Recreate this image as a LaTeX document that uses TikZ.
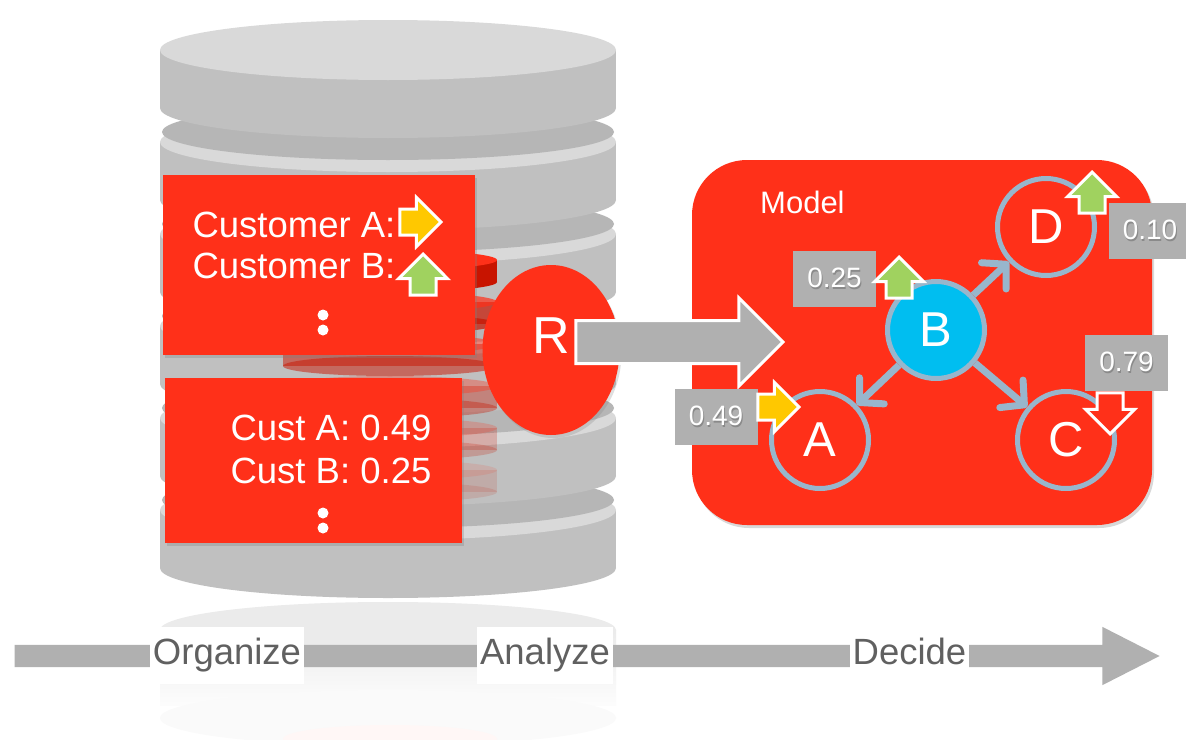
\documentclass[tikz,border=0pt]{standalone}
\usepackage{fontspec}
\setmainfont{Liberation Sans}
\usetikzlibrary{positioning,arrows.meta,shapes.geometric,shapes.arrows,shadows}

\definecolor{modelRed}{RGB}{255,48,25}
\definecolor{diskTop}{RGB}{217,217,217}
\definecolor{diskSide}{RGB}{192,192,192}
\definecolor{diskGap}{RGB}{182,182,182}
\definecolor{diskRedSide}{RGB}{200,20,0}
\definecolor{tagGray}{RGB}{176,176,176}
\definecolor{tagShade}{RGB}{138,138,138}
\definecolor{edgeBlue}{RGB}{152,182,204}
\definecolor{nodeCyan}{RGB}{0,190,240}
\definecolor{upGreen}{RGB}{160,210,95}
\definecolor{sideYellow}{RGB}{255,200,0}
\definecolor{stepText}{RGB}{96,96,96}

\newcommand{\pxfont}[1]{\fontsize{#1}{#1}\selectfont}
% white figures with a soft dark copy underneath
\newcommand{\tagText}[1]{\rlap{\kern1pt\raisebox{-2pt}{\textcolor{tagShade}{#1}}}#1}
% one grey platter of the database, #1 = y of its top face
\newcommand{\dbDisk}[1]{%
  \fill[diskSide] (160,#1) rectangle (616,#1+58);
  \fill[diskSide] (388,#1+58) ellipse [x radius=228, y radius=30];
  \fill[diskTop] (388,#1) ellipse [x radius=228, y radius=30];}

\begin{document}
\begin{tikzpicture}[
  x=1pt, y=-1pt,
  redBox/.style={fill=modelRed, inner sep=0pt,
                 drop shadow={opacity=0.3, shadow xshift=2pt,
                              shadow yshift=-3pt}},
  boxText/.style={text=white, font=\pxfont{36.5}, anchor=base,
                  inner sep=0pt},
  iconArrow/.style={single arrow, draw=white, line width=3pt,
                    inner sep=11.5pt, single arrow head extend=11.5pt,
                    minimum height=41pt, anchor=tip},
  upIcon/.style={iconArrow, fill=upGreen, shape border rotate=90},
  rightIcon/.style={iconArrow, fill=sideYellow},
  downIcon/.style={iconArrow, fill=modelRed, shape border rotate=270},
  stateNode/.style={circle, draw=edgeBlue, line width=5pt, fill=modelRed,
                    minimum size=97pt, inner sep=0pt, text=white,
                    font=\pxfont{49}},
  edgeLine/.style={draw=edgeBlue, line width=7pt,
                   -{Straight Barb[round, length=17pt, width=36pt]}},
  tagBox/.style={fill=tagGray, text=white, minimum width=83pt,
                 minimum height=56pt, inner sep=0pt, font=\pxfont{28}},
  stepLabel/.style={fill=white, text=stepText, font=\pxfont{36.5},
                    inner xsep=3pt, inner ysep=11pt, text height=27pt,
                    text depth=8pt}
]
  \fill[white] (0,0) rectangle (1186,739);
  \useasboundingbox (0,0) rectangle (1186,739);

  % === Database stack ===
  % faint mirror image under the stack
  \shade[top color=black!8, bottom color=black!1] (160,630) rectangle (616,705);
  \fill[black!8] (388,630) ellipse [x radius=228, y radius=28];
  \fill[black!2] (388,718) ellipse [x radius=228, y radius=28];
  \fill[modelRed!4] (390,739) ellipse [x radius=107, y radius=14];
  % platters, bottom one first
  \foreach \t in {510,418,326,234,142} {
    \dbDisk{\t}
    \fill[diskGap] (388,\t-10) ellipse [x radius=226, y radius=28];
  }
  \dbDisk{50}
  % red records inside the stack
  \foreach \t/\o in {470/0.12, 428/0.22, 386/0.35, 344/0.5, 302/0.7, 260/1} {
    \begin{scope}[fill opacity=\o]
      \fill[diskRedSide] (283,\t) rectangle (497,\t+22);
      \fill[diskRedSide] (390,\t+22) ellipse [x radius=107, y radius=10];
      \fill[modelRed] (390,\t) ellipse [x radius=107, y radius=10];
    \end{scope}
  }

  % === Customer trends ===
  \node[redBox, minimum width=312pt, minimum height=180pt] (custBox)
    at (319,265) {};
  \node[boxText] (custA) at (294,237) {Customer A:};
  \node[boxText] (custB) at (294,278) {Customer B:};
  \fill[white] (323,315) circle (5.5);
  \fill[white] (323,330) circle (5.5);
  \node[rightIcon] (custAIcon) at (443,222) {};
  \node[upIcon] (custBIcon) at (423,252) {};

  % === Customer scores ===
  \node[redBox, minimum width=297pt, minimum height=165pt] (scoreBox)
    at (313.5,460.5) {};
  \node[boxText] (scoreA) at (331,440) {Cust A: 0.49};
  \node[boxText] (scoreB) at (331,483) {Cust B: 0.25};
  \fill[white] (323,513) circle (5.5);
  \fill[white] (323,528) circle (5.5);

  % === R engine and model ===
  \node[ellipse, fill=modelRed, minimum width=137pt, minimum height=170pt,
        inner sep=0pt, drop shadow={opacity=0.25, shadow xshift=2pt,
        shadow yshift=-3pt}] (rNode) at (551,350) {};
  \node[text=white, font=\pxfont{52}, inner sep=0pt] (rLabel)
    at ([yshift=14pt]rNode.center) {R};
  \node[redBox, rounded corners=55pt, minimum width=460pt,
        minimum height=365pt] (modelBox) at (922,342.5) {};
  \node[single arrow, fill=tagGray, draw=white, line width=3pt,
        inner xsep=0pt, inner ysep=20pt, single arrow head extend=22.5pt,
        minimum height=207pt, anchor=tip] (flowArrow) at (785,342) {};

  \node[anchor=base west, text=white, font=\pxfont{31}, inner sep=0pt]
    (modelLabel) at (760,213) {Model};
  \node[stateNode, fill=nodeCyan] (nB) at (936,330) {B};
  \node[stateNode] (nA) at (820,440) {A};
  \node[stateNode] (nC) at (1066,440) {C};
  \node[stateNode] (nD) at (1046,227) {D};
  \draw[edgeLine] (nB) -- (nA);
  \draw[edgeLine] (nB) -- (nC);
  \draw[edgeLine] (nB) -- (nD);

  % scores and trends on the model
  \node[tagBox] (tagB) at (834.5,279) {\tagText{0.25}};
  \node[tagBox] (tagD) at (1150,231) {\tagText{0.10}};
  \node[tagBox] (tagC) at (1126.5,363) {\tagText{0.79}};
  \node[tagBox] (tagA) at (716,417) {\tagText{0.49}};
  \node[upIcon] (iconB) at (899,255) {};
  \node[upIcon] (iconD) at (1092,170) {};
  \node[rightIcon] (iconA) at (801,407) {};
  \node[downIcon] (iconC) at (1110,436) {};

  % === Timeline ===
  \node[single arrow, fill=tagGray, inner xsep=0pt, inner ysep=11pt,
        single arrow head extend=18pt, single arrow tip angle=54,
        minimum height=1145pt, anchor=tip] (timeline) at (1160,656) {};
  \node[stepLabel] (organize) at (227,655) {Organize};
  \node[stepLabel] (analyze) at (545,655) {Analyze};
  \node[stepLabel] (decide) at (909.5,655) {Decide};
\end{tikzpicture}
\end{document}
